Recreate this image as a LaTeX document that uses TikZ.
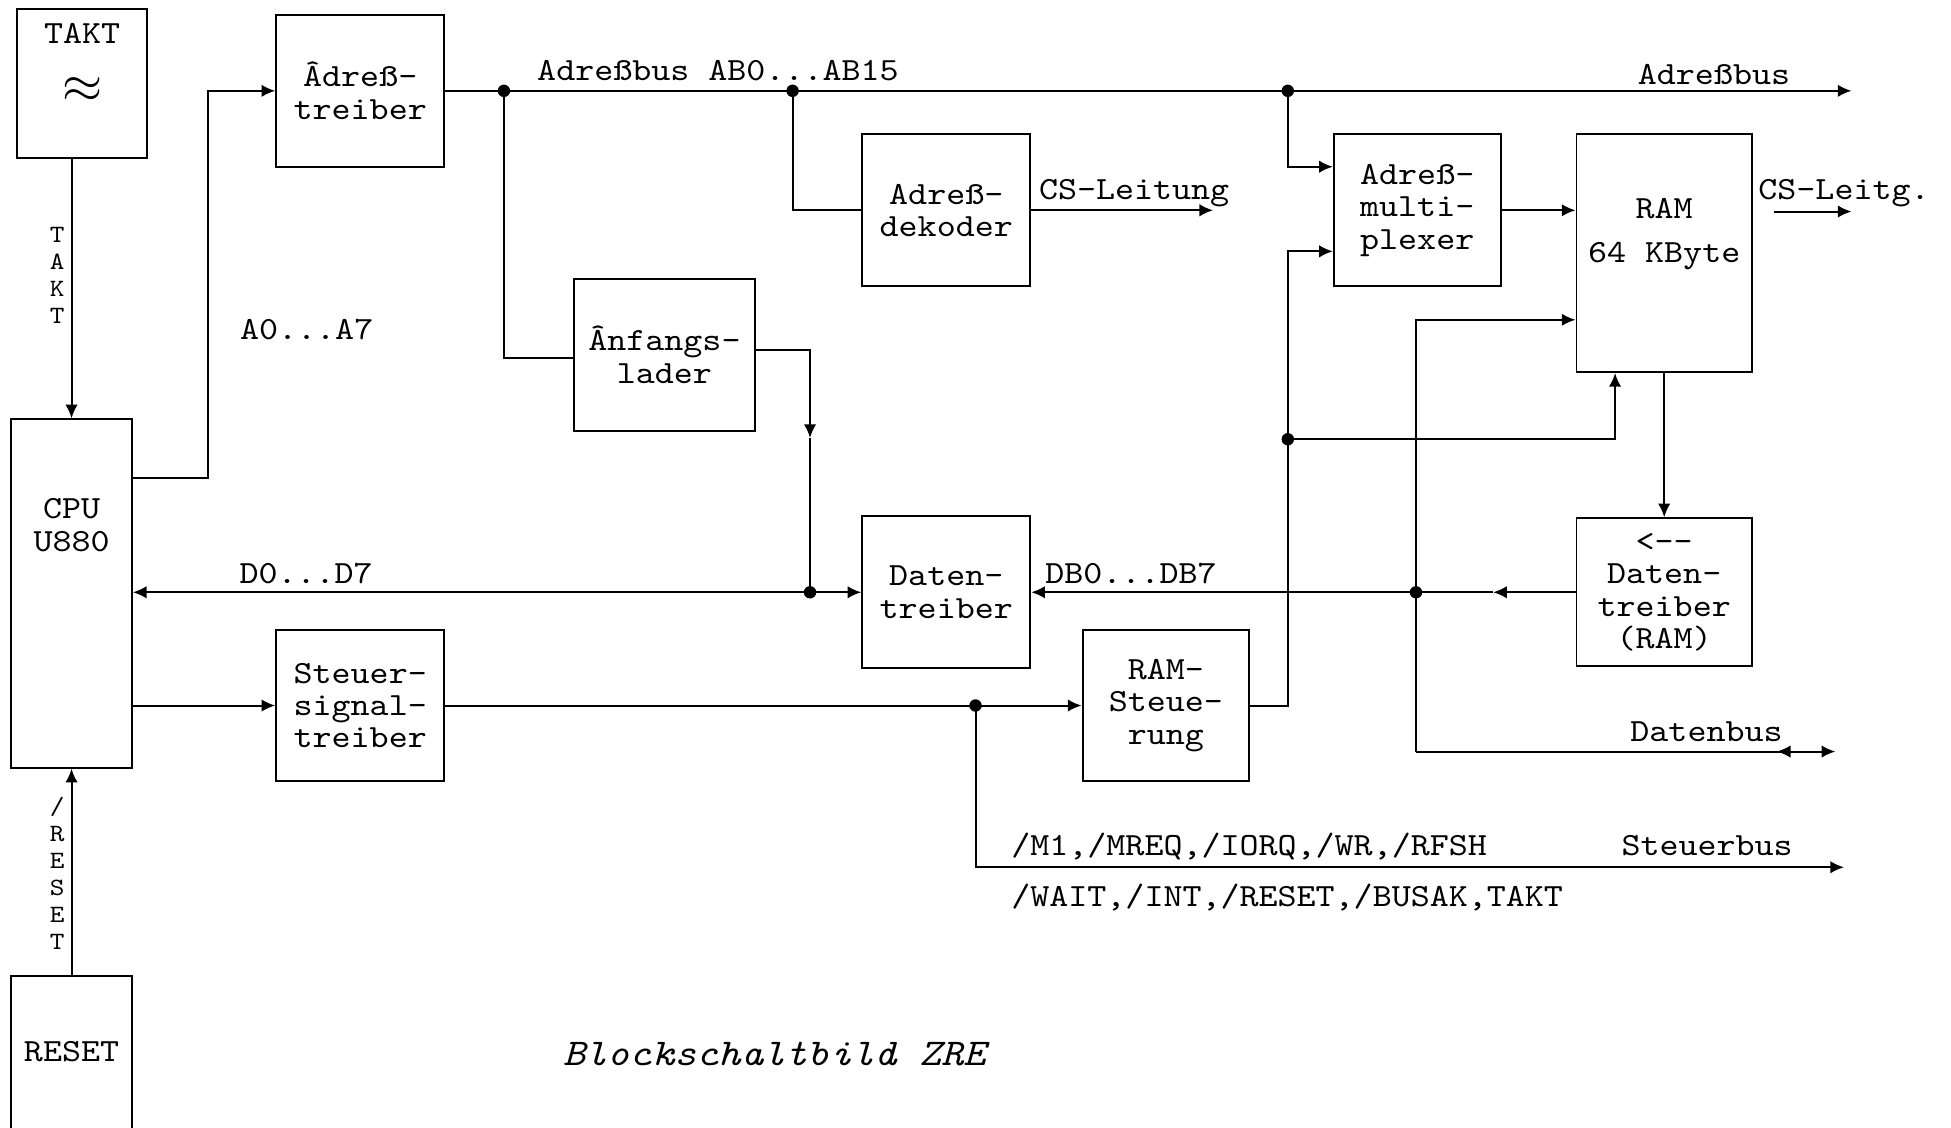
\documentclass[tikz,border=0pt]{standalone}
\usepackage{fontspec}
\setmonofont{lmmono10-regular.otf}[FakeStretch=1.12, ItalicFont=lmmono10-italic.otf]
\usetikzlibrary{arrows.meta}
\begin{document}
\begin{tikzpicture}[x=0.5pt,y=-0.5pt, line width=0.8pt,
 box/.style={draw, inner sep=0pt, align=center, font=\ttfamily\fontsize{13}{13}\selectfont},
 lbl/.style={inner sep=0pt, align=center, font=\ttfamily\fontsize{13}{13}\selectfont},
 vlbl/.style={inner sep=0pt, align=center, font=\ttfamily\fontsize{10}{10.9}\selectfont},
 arr/.style={-{Latex[length=5.5pt,width=5pt]}},
 dot/.style={circle, fill, inner sep=0pt, minimum size=5pt}]
\useasboundingbox (0,0) rectangle (1568,906);

% boxes
\node[box, minimum width=52pt, minimum height=60pt] (takt) at (66,67) {};
\node[lbl] (takttxt) at (66,27) {TAKT};
\node[lbl, font=\fontsize{20}{20}\selectfont] (approx) at (66,72) {$\approx$};
\node[box, minimum width=48.5pt, minimum height=140pt] (cpu) at (57.5,477) {};
\node[lbl] (cputxt) at (57.5,422) {CPU\\U880};
\node[box, minimum width=48.5pt, minimum height=62pt] (reset) at (57.5,846) {};
\node[lbl] (resettxt) at (57.5,845) {RESET};
\node[box, minimum width=67.5pt, minimum height=61pt] (adrt) at (289.5,73) {Âdreß-\\treiber};
\node[box, minimum width=73pt, minimum height=61pt] (anf) at (534,285) {Ânfangs-\\lader};
\node[box, minimum width=67.5pt, minimum height=61pt] (adek) at (760.5,169) {Adreß-\\dekoder};
\node[box, minimum width=67pt, minimum height=61pt] (amux) at (1139,169) {Adreß-\\multi-\\plexer};
\node[box, minimum width=70.5pt, minimum height=95.5pt] (ram) at (1337.5,203.5) {};
\node[lbl] (ramtxt1) at (1337.5,168) {RAM};
\node[lbl] (ramtxt2) at (1337.5,206) {64 KByte};
\node[box, minimum width=70.5pt, minimum height=59.5pt] (dtram) at (1337.5,476) {<\mbox{-}\mbox{-}\\Daten-\\treiber\\(RAM)};
\node[box, minimum width=67.5pt, minimum height=61pt] (dt) at (760.5,476) {Daten-\\treiber};
\node[box, minimum width=67.5pt, minimum height=61pt] (sst) at (289.5,567) {Steuer-\\signal-\\treiber};
\node[box, minimum width=67pt, minimum height=61pt] (rst) at (937,567) {RAM-\\Steue-\\rung};

% coordinates
\coordinate (a1) at (167,384);
\coordinate (j1) at (405,73);
\coordinate (j2) at (637,73);
\coordinate (j3) at (1035,73);
\coordinate (abend) at (1488,73);
\coordinate (m1) at (651,352);
\coordinate (j4) at (651,476);
\coordinate (csl) at (975,169);
\coordinate (cs2a) at (1426,170);
\coordinate (cs2b) at (1488,170);
\coordinate (v1) at (1035,202);
\coordinate (j5) at (1035,353);
\coordinate (db1) at (1138,604);
\coordinate (j6) at (1138,476);
\coordinate (dbend) at (1475,604);
\coordinate (dbm) at (1445,604);
\coordinate (dbtip) at (1428,604);
\coordinate (m2) at (1200,476);
\coordinate (j7) at (784,567);
\coordinate (sbend) at (1482,697);

% connectors
\draw[arr] (takt.south -| cpu.north) -- (cpu.north);
\draw[arr] (reset.north) -- (cpu.south);
\draw[arr] (cpu.east |- a1) -- (a1) |- (adrt.west);
\draw[arr] (adrt.east) -- (abend);
\draw (j1) |- ([yshift=-1.5pt]anf.west);
\draw[arr] ([yshift=2pt]anf.east) -| (m1);
\draw (m1) -- (j4);
\draw (j2) |- (adek.west);
\draw[arr] (adek.east) -- (csl);
\draw[arr] (j3) |- ([yshift=17.5pt]amux.west);
\draw[arr] (amux.east) -- (amux.east -| ram.west);
\draw[arr] (cs2a) -- (cs2b);
\draw[arr] (rst.east) -| (v1) -- ([yshift=-16.5pt]amux.west);
\draw[arr] (j5) -| ([xshift=-19.75pt]ram.south);
\draw[arr] (db1) |- ([yshift=-26.75pt]ram.west);
\draw[arr] (db1) -- (dbend);
\draw[arr] (dbm) -- (dbtip);
\draw[arr] (ram.south) -- (dtram.north);
\draw[arr] (dtram.west) -- (m2);
\draw[arr] (m2) -- (dt.east);
\draw[arr] (j4) -- (cpu.east |- j4);
\draw[arr] (j4) -- (dt.west);
\draw[arr] (cpu.east |- sst.west) -- (sst.west);
\draw (sst.east) -- (j7);
\draw[arr] (j7) -- (rst.west);
\draw[arr] (j7) |- (sbend);

\foreach \p in {j1,j2,j3,j4,j5,j6,j7} \node[dot] at (\p) {};

% labels
\node[lbl] (l1) at (577,57) {Adreßbus AB0...AB15};
\node[lbl] (l2) at (1377.5,60) {Adreßbus};
\node[lbl] (l3) at (911.5,155) {CS-Leitung};
\node[lbl] (l4) at (1482,155) {CS-Leitg.};
\node[lbl] (l5) at (246.5,265) {A0...A7};
\node[lbl] (l6) at (246,461) {D0...D7};
\node[lbl] (l7) at (909,461) {DB0...DB7};
\node[lbl] (l8) at (1371.5,588) {Datenbus};
\node[lbl, anchor=west] (l9) at (812,680) {/M1,/MREQ,/IORQ,/WR,/RFSH};
\node[lbl] (l10) at (1372,680) {Steuerbus};
\node[lbl, anchor=west] (l11) at (812,721) {/WAIT,/INT,/RESET,/BUSAK,TAKT};
\node[vlbl] (vtakt) at (46,221.5) {T\\A\\K\\T};
\node[vlbl] (vreset) at (46,702) {/\\R\\E\\S\\E\\T};
\node[lbl, font=\ttfamily\itshape\fontsize{15.2}{16}\selectfont] (cap) at (622.5,847) {Blockschaltbild ZRE};
\end{tikzpicture}
\end{document}
